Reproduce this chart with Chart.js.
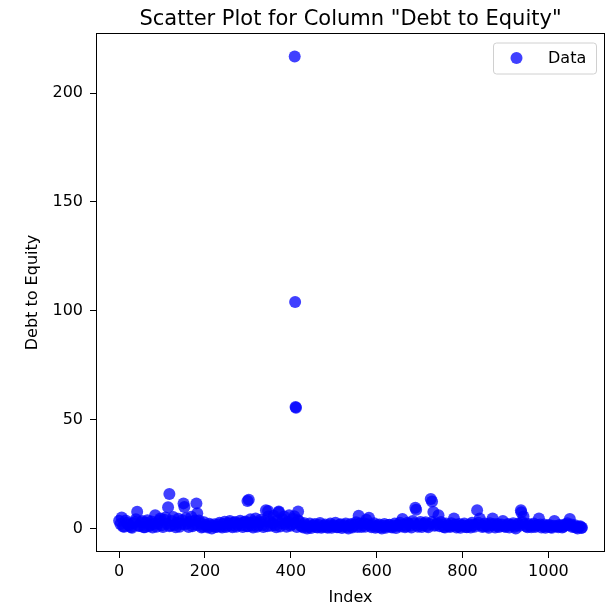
<!DOCTYPE html>
<html>
<head>
  <title>Debt to Equity scatter</title>
  <meta charset="utf-8">
  <style>
    body { margin: 0; background: #fff; }
  </style>
</head>
<body>
  <script src="https://cdn.jsdelivr.net/npm/chart.js"></script>
  <canvas id="scatterChart" width="611" height="611"></canvas>
<script>
    const chartTitle = 'Scatter Plot for Column "Debt to Equity"';
    const xTitle = 'Index';
    const yTitle = 'Debt to Equity';
    const seriesLabel = 'Data';

    // Row index of each record
    const indexValues = [
        0, 6, 12, 18, 24, 30, 36, 42, 48, 54,
        60, 66, 72, 78, 84, 90, 96, 102, 108, 114,
        120, 126, 132, 138, 144, 150, 156, 162, 168, 174,
        180, 186, 192, 198, 204, 210, 216, 222, 228, 234,
        240, 246, 252, 258, 264, 270, 276, 282, 288, 294,
        300, 306, 312, 318, 324, 330, 336, 342, 348, 354,
        360, 366, 372, 378, 384, 390, 396, 402, 408, 414,
        420, 426, 432, 438, 444, 450, 456, 462, 468, 474,
        480, 486, 492, 498, 504, 510, 516, 522, 528, 534,
        540, 546, 552, 558, 564, 570, 576, 582, 588, 594,
        600, 606, 612, 618, 624, 630, 636, 642, 648, 654,
        660, 666, 672, 678, 684, 690, 696, 702, 708, 714,
        720, 726, 732, 738, 744, 750, 756, 762, 768, 774,
        780, 786, 792, 798, 804, 810, 816, 822, 828, 834,
        840, 846, 852, 858, 864, 870, 876, 882, 888, 894,
        900, 906, 912, 918, 924, 930, 936, 942, 948, 954,
        960, 966, 972, 978, 984, 990, 996, 1002, 1008, 1014,
        1020, 1026, 1032, 1038, 1044, 1050, 1056, 1062, 1068, 1074,
        1078
    ];
    // Debt to Equity for each row above
    const debtValues = [
        3.5, 5.0, 0.8, 2.6, 1.4, 0.3, 3.0, 7.7, 1.1, 3.4,
        0.5, 3.8, 1.6, 0.4, 6.0, 2.2, 4.5, 0.7, 5.0, 9.7,
        1.3, 5.2, 0.5, 4.4, 2.0, 11.5, 4.8, 0.6, 5.4, 1.8,
        11.5, 3.6, 0.4, 2.8, 1.0, 2.1, 0.0, 1.9, 0.8, 2.6,
        0.4, 3.1, 1.2, 3.4, 0.5, 3.0, 1.6, 3.5, 0.6, 3.2,
        1.0, 4.2, 0.4, 4.6, 1.5, 4.0, 0.7, 8.4, 5.6, 1.2,
        5.8, 0.5, 7.8, 2.4, 5.5, 0.8, 6.0, 1.8, 5.6, 0.6,
        3.2, 0.9, 2.4, 0.0, 2.2, 1.0, 2.0, 0.4, 2.5, 0.8,
        1.8, 0.3, 2.2, 1.0, 2.6, 0.5, 1.9, 0.9, 2.3, 0.0,
        2.0, 1.1, 2.8, 5.8, 0.6, 2.4, 4.0, 4.9, 0.5, 2.4,
        0.8, 1.8, 0.0, 2.0, 1.0, 1.7, 0.4, 2.2, 1.2, 2.6,
        4.3, 0.5, 2.6, 1.2, 3.4, 9.5, 0.8, 3.0, 1.4, 2.8,
        0.5, 13.5, 7.5, 1.6, 6.1, 3.0, 0.6, 2.2, 1.0, 2.4,
        4.6, 0.4, 2.0, 1.3, 2.2, 0.5, 1.8, 2.6, 0.8, 8.4,
        4.5, 0.6, 2.2, 1.0, 2.4, 4.6, 0.4, 2.0, 1.2, 3.4,
        0.6, 2.0, 1.4, 2.4, 0.0, 2.2, 8.4, 5.5, 1.0, 2.0,
        0.5, 2.2, 1.2, 4.6, 0.4, 1.8, 0.9, 1.6, 0.3, 3.4,
        1.0, 1.6, 0.4, 1.8, 2.4, 4.3, 0.6, 1.4, 0.0, 1.0,
        0.4
    ];
    // Rows in between the ones above
    const fillIndex = [
        3, 9, 15, 21, 27, 33, 39, 45, 51, 57,
        63, 69, 75, 81, 87, 93, 99, 105, 111, 117,
        123, 129, 135, 141, 147, 153, 159, 165, 171, 177,
        183, 189, 195, 201, 207, 213, 219, 225, 231, 237,
        243, 249, 255, 261, 267, 273, 279, 285, 291, 297,
        303, 309, 315, 321, 327, 333, 339, 345, 351, 357,
        363, 369, 375, 381, 387, 393, 399, 405, 411, 417,
        423, 429, 435, 441, 447, 453, 459, 465, 471, 477,
        483, 489, 495, 501, 507, 513, 519, 525, 531, 537,
        543, 549, 555, 561, 567, 573, 579, 585, 591, 597,
        603, 609, 615, 621, 627, 633, 639, 645, 651, 657,
        663, 669, 675, 681, 687, 693, 699, 705, 711, 717,
        723, 729, 735, 741, 747, 753, 759, 765, 771, 777,
        783, 789, 795, 801, 807, 813, 819, 825, 831, 837,
        843, 849, 855, 861, 867, 873, 879, 885, 891, 897,
        903, 909, 915, 921, 927, 933, 939, 945, 951, 957,
        963, 969, 975, 981, 987, 993, 999, 1005, 1011, 1017,
        1023, 1029, 1035, 1041, 1047, 1053, 1059, 1065, 1071, 1077
    ];
    const fillValues = [
        2.0, 0.9, 3.6, 1.8, 0.6, 2.4, 4.2, 1.2, 2.8, 0.5,
        2.6, 1.0, 3.2, 2.0, 0.8, 3.6, 1.4, 4.0, 2.2, 1.0,
        3.4, 1.6, 2.6, 0.8, 3.8, 1.8, 2.4, 3.2, 1.0, 3.6,
        1.4, 2.2, 0.8, 1.6, 0.4, 1.5, 1.0, 0.6, 1.8, 0.9,
        2.0, 0.6, 2.4, 1.2, 2.6, 0.8, 2.2, 1.4, 2.8, 1.0,
        2.6, 1.2, 3.0, 0.8, 2.8, 1.6, 3.4, 1.0, 3.2, 2.4,
        1.4, 3.6, 0.9, 4.2, 2.0, 3.0, 1.2, 4.4, 2.6, 3.8,
        1.2, 0.4, 1.5, 0.8, 0.2, 1.4, 0.6, 1.6, 0.3, 1.2,
        0.6, 1.5, 0.3, 1.3, 0.5, 1.6, 0.2, 1.4, 0.7, 1.5,
        0.4, 1.8, 0.6, 2.2, 1.4, 0.8, 1.9, 1.2, 1.6, 0.3,
        1.4, 0.5, 1.2, 0.3, 1.6, 0.8, 1.3, 0.2, 1.6, 0.9,
        1.8, 1.0, 2.0, 0.4, 2.4, 1.5, 2.0, 0.7, 2.2, 1.1,
        2.0, 3.0, 1.2, 2.4, 1.0, 1.8, 0.4, 1.5, 0.6, 1.2,
        1.8, 1.0, 0.3, 1.5, 0.6, 1.3, 0.4, 1.4, 1.8, 2.6,
        1.6, 1.0, 1.4, 0.3, 1.6, 2.0, 1.2, 0.6, 1.8, 1.0,
        1.4, 0.4, 1.6, 0.8, 1.5, 1.2, 3.0, 2.0, 0.5, 1.3,
        1.4, 0.6, 1.6, 1.8, 1.0, 0.3, 1.3, 0.5, 1.2, 1.0,
        0.5, 1.2, 0.8, 1.4, 1.6, 1.8, 0.9, 0.4, 0.8, 0.2
    ];
    // Rows that stand above the main band
    const peakIndex = [117, 152, 182, 299, 302, 347, 372, 409, 410, 411, 412, 417, 692, 729, 937];
    const peakValues = [15.8, 9.8, 7.0, 12.6, 13.2, 8.0, 7.4, 216.8, 104.0, 55.8, 55.4, 7.8, 8.6, 12.4, 7.4];

    const xTicks = [0, 200, 400, 600, 800, 1000];
    const yTicks = [0, 50, 100, 150, 200];

    const pointColor = 'rgba(0, 0, 255, 0.75)';

    // merge the sets and keep them in row order
    const toPoints = (xs, ys) => xs.map((x, i) => ({ x: x, y: ys[i] }));
    const points = toPoints(indexValues, debtValues)
        .concat(toPoints(fillIndex, fillValues))
        .concat(toPoints(peakIndex, peakValues))
        .sort((a, b) => a.x - b.x);

    // 5% margins on both axes
    function paddedRange(vals) {
        const lo = Math.min(...vals), hi = Math.max(...vals);
        const pad = (hi - lo) * 0.05;
        return [lo - pad, hi + pad];
    }
    const xRange = paddedRange(points.map(p => p.x));
    const yRange = paddedRange(points.map(p => p.y));

    // box around the axes, title over the plot and the legend in the corner
    const framePlugin = {
        id: 'frame',
        afterDraw(chart) {
            const ctx = chart.ctx;
            const a = chart.chartArea;
            ctx.save();
            ctx.strokeStyle = '#000';
            ctx.lineWidth = 1;
            ctx.strokeRect(Math.round(a.left) + 0.5, Math.round(a.top) + 0.5,
                Math.round(a.right - a.left) - 1, Math.round(a.bottom - a.top) - 1);

            ctx.fillStyle = '#000';
            ctx.font = '21px "DejaVu Sans"';
            ctx.textAlign = 'center';
            ctx.textBaseline = 'middle';
            ctx.fillText(chartTitle, (a.left + a.right) / 2, 20);

            // legend box
            const bw = 103, bh = 31;
            const bx = a.right - 9 - bw, by = a.top + 9.5;
            ctx.beginPath();
            ctx.roundRect(bx + 0.5, by + 0.5, bw, bh, 3);
            ctx.fillStyle = 'rgba(255,255,255,0.8)';
            ctx.fill();
            ctx.strokeStyle = '#d0d0d0';
            ctx.stroke();
            ctx.beginPath();
            ctx.arc(bx + 23.5, by + bh / 2, 6, 0, Math.PI * 2);
            ctx.fillStyle = pointColor;
            ctx.fill();
            ctx.fillStyle = '#000';
            ctx.font = '16px "DejaVu Sans"';
            ctx.textAlign = 'left';
            ctx.fillText(seriesLabel, bx + 55, by + bh / 2 + 1);
            ctx.restore();
        }
    };

    Chart.defaults.font.family = '"DejaVu Sans", sans-serif';
    Chart.defaults.font.size = 16;
    Chart.defaults.color = '#000';

    const ctx = document.getElementById('scatterChart').getContext('2d');
    new Chart(ctx, {
        type: 'scatter',
        data: {
            datasets: [{
                label: seriesLabel,
                data: points,
                backgroundColor: pointColor,
                borderWidth: 0,
                pointRadius: 6,
                pointHoverRadius: 6
            }]
        },
        options: {
            responsive: false,
            animation: false,
            events: [],
            layout: { padding: { top: 33, right: 5, left: 0, bottom: 0 } },
            plugins: {
                legend: { display: false },
                title: { display: false },
                tooltip: { enabled: false }
            },
            scales: {
                x: {
                    type: 'linear',
                    min: xRange[0],
                    max: xRange[1],
                    afterBuildTicks: scale => { scale.ticks = xTicks.map(v => ({ value: v })); },
                    afterFit: scale => { scale.height = 59; },
                    border: { display: false },
                    grid: { drawOnChartArea: false, drawTicks: true, tickLength: 6, color: '#000' },
                    ticks: { padding: 4, maxRotation: 0, font: { size: 16 }, callback: v => String(v) },
                    title: { display: true, text: xTitle, font: { size: 16 }, padding: { top: 0, bottom: 4 } }
                },
                y: {
                    type: 'linear',
                    min: yRange[0],
                    max: yRange[1],
                    afterBuildTicks: scale => { scale.ticks = yTicks.map(v => ({ value: v })); },
                    afterFit: scale => { scale.width = 96; },
                    border: { display: false },
                    grid: { drawOnChartArea: false, drawTicks: true, tickLength: 6, color: '#000' },
                    ticks: { padding: 7, font: { size: 16 }, callback: v => String(v) },
                    title: { display: true, text: yTitle, font: { size: 16 }, padding: { top: 23, bottom: 0 } }
                }
            }
        },
        plugins: [framePlugin]
    });
</script>
</body>
</html>
